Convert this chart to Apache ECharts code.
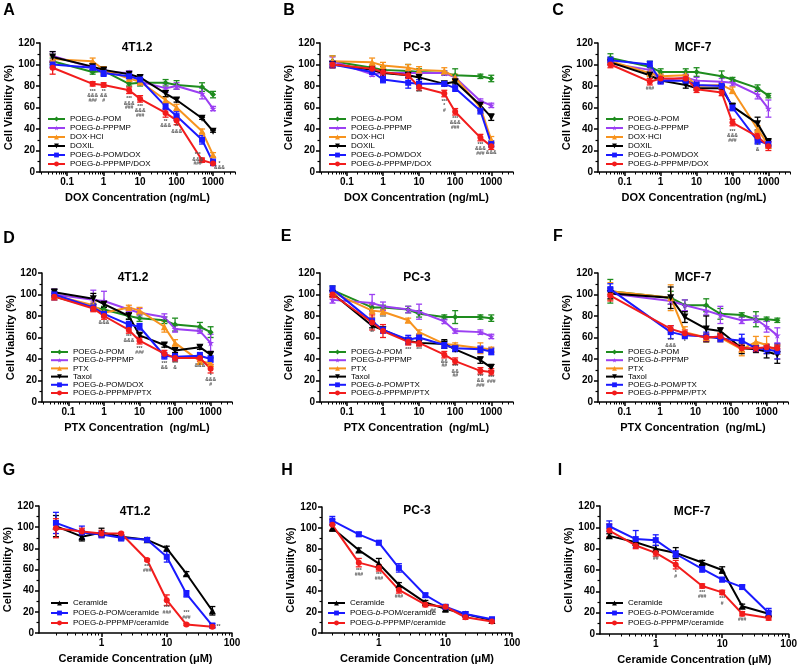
<!DOCTYPE html>
<html><head><meta charset="utf-8">
<script src="https://cdn.jsdelivr.net/npm/echarts@6/dist/echarts.min.js"></script>
<style>html,body{margin:0;padding:0;background:#fff}#c{width:800px;height:667px}</style>
</head><body><div id="c"></div>
<script>
// ---------- concentrations ----------
const concDOX = [0.04, 0.5, 1, 5, 10, 50, 100, 500, 1000];
const concPTX = [0.04, 0.5, 1, 5, 10, 50, 100, 500, 1000];
const concPTX_F = [0.04, 2, 5, 20, 50, 200, 500, 1000, 2000];
const concCer = [0.2, 0.5, 1, 2, 5, 10, 20, 50];

// ---------- tick labels ----------
const xMajorTicks = [0.01, 0.1, 1, 10, 100, 1000, 10000];
const yTicks = [0, 20, 40, 60, 80, 100, 120];

// ---------- legend names ----------
const namesDOX = ['POEG-b-POM', 'POEG-b-PPPMP', 'DOX·HCl', 'DOXIL', 'POEG-b-POM/DOX', 'POEG-b-PPPMP/DOX'];
const namesPTX_D = ['POEG-b-POM', 'POEG-b-PPPMP', 'PTX', 'Taxol', 'POEG-b-POM/DOX', 'POEG-b-PPPMP/PTX'];
const namesPTX = ['POEG-b-POM', 'POEG-b-PPPMP', 'PTX', 'Taxol', 'POEG-b-POM/PTX', 'POEG-b-PPPMP/PTX'];
const namesCer = ['Ceramide', 'POEG-b-POM/ceramide', 'POEG-b-PPPMP/ceramide'];

// ---------- Panel A : 4T1.2, DOX ----------
const A_POM      = [103, 93, 94, 82, 83, 83, 81, 79, 72];
const A_PPPMP    = [108, 97, 93, 92, 84, 78, 80, 73, 59];
const A_DOXHCl   = [105, 103, 95, 87, 84, 67, 60, 38, 16];
const A_DOXIL    = [107, 98, 95, 91, 88, 73, 67, 50, 38];
const A_POMDOX   = [100, 97, 92, 89, 86, 61, 52, 30, 9];
const A_PPPMPDOX = [97, 82, 81, 76, 68, 55, 48, 11, 8];
const A_err = [[3,2,3,2,3,3,4,4,3],[4,3,3,2,3,4,3,5,2],[3,3,3,3,3,3,3,2,2],[5,3,2,2,2,3,2,1,1],[3,2,3,2,4,3,4,4,3],[6,2,2,3,3,4,4,2,1]];
const A_notes = [[0.5,77,'***\n&&&\n###'],[1,77,'**\n&&\n#'],[5,70,'***\n&&&\n###'],[10,63,'***\n&&&\n###'],[50,49,'**\n&&&'],[100,44,'**\n&&&'],[380,18,'***\n&&&\n###'],[1500,10,'*\n&&&']];

// ---------- Panel B : PC-3, DOX ----------
const B_POM      = [103, 97, 95, 94, 93, 92, 90, 89, 87];
const B_PPPMP    = [103, 91, 92, 92, 92, 92, 88, 66, 62];
const B_DOXHCl   = [103, 102, 99, 97, 95, 94, 88, 60, 30];
const B_DOXIL    = [100, 95, 92, 90, 88, 82, 84, 62, 51];
const B_POMDOX   = [100, 93, 86, 83, 82, 82, 78, 57, 26];
const B_PPPMPDOX = [100, 96, 93, 90, 79, 73, 56, 32, 24];
const B_err = [[5,2,3,6,3,2,6,2,3],[4,2,2,2,2,2,2,2,2],[5,4,3,3,3,3,3,3,3],[3,2,2,2,4,2,2,3,3],[3,2,3,5,4,2,3,3,3],[3,3,3,3,3,3,3,3,3]];
const B_notes = [[10,76,'***'],[50,68,'***\n*\n#'],[100,52,'***\n&&&\n###'],[500,28,'***\n&&&\n###'],[1000,20,'&&&']];

// ---------- Panel C : MCF-7, DOX ----------
const C_POM      = [106, 98, 93, 93, 93, 89, 86, 78, 71];
const C_PPPMP    = [101, 95, 85, 88, 85, 84, 83, 72, 59];
const C_DOXHCl   = [103, 92, 89, 90, 80, 81, 76, 40, 25];
const C_DOXIL    = [102, 90, 85, 81, 78, 78, 61, 45, 28];
const C_POMDOX   = [104, 100, 85, 85, 81, 80, 60, 29, 26];
const C_PPPMPDOX = [100, 84, 87, 87, 77, 74, 46, 33, 24];
const C_err = [[4,5,3,3,4,5,2,3,2],[2,4,3,3,3,3,3,4,8],[3,3,3,3,3,3,3,3,3],[2,3,2,3,2,3,3,6,3],[3,3,3,3,3,3,3,3,3],[3,3,3,3,3,3,3,3,4]];
const C_notes = [[0.5,80,'###'],[100,40,'***\n&&&\n###'],[500,27,'*\n&']];

// ---------- Panel D : 4T1.2, PTX ----------
const D_POM      = [98, 88, 86, 80, 78, 76, 72, 70, 65];
const D_PPPMP    = [100, 95, 94, 86, 83, 79, 68, 66, 55];
const D_PTX      = [99, 90, 83, 88, 85, 70, 55, 38, 36];
const D_Taxol    = [102, 96, 91, 80, 62, 53, 48, 51, 44];
const D_POMPTX   = [100, 88, 82, 72, 70, 43, 42, 43, 40];
const D_PPPMPPTX = [98, 87, 80, 67, 57, 45, 41, 41, 31];
const D_err = [[3,3,3,3,3,3,6,4,5],[5,9,9,2,4,3,3,2,8],[3,3,3,2,3,5,3,3,3],[3,5,3,3,2,2,2,2,3],[3,3,3,3,3,3,3,3,3],[3,3,3,3,3,3,3,3,4]];
const D_notes = [[1,76,'&&&'],[5,63,'***\n&&&'],[10,52,'***\n###'],[50,38,'***\n&&'],[100,38,'***\n&'],[500,36,'&&&'],[1000,27,'*\n&&&\n#']];

// ---------- Panel E : PC-3, PTX ----------
const E_POM      = [104, 88, 88, 86, 82, 79, 79, 79, 78];
const E_PPPMP    = [95, 92, 89, 86, 84, 75, 66, 65, 61];
const E_PTX      = [102, 85, 84, 76, 65, 54, 53, 50, 49];
const E_Taxol    = [101, 71, 67, 57, 55, 54, 49, 39, 32];
const E_POMPTX   = [105, 75, 67, 58, 60, 53, 50, 49, 47];
const E_PPPMPPTX = [100, 74, 66, 56, 55, 44, 38, 29, 28];
const E_err = [[4,3,2,3,3,2,6,2,3],[3,8,4,3,7,2,2,2,2],[4,6,2,2,2,2,2,5,2],[3,2,2,3,2,4,2,3,3],[3,3,3,4,3,3,3,3,3],[3,7,6,3,3,3,3,3,3]];
const E_notes = [[0.5,67,'**'],[1,81,'***'],[5,51,'***'],[10,51,'***'],[50,40,'&&\n##'],[100,35,'***\n&&\n##'],[500,26,'***\n&&\n###'],[1000,25,'***\n###']];

// ---------- Panel F : MCF-7, PTX ----------
const F_POM      = [103, 97, 90, 90, 82, 81, 77, 77, 76];
const F_PPPMP    = [101, 94, 90, 85, 81, 76, 77, 70, 62];
const F_PTX      = [103, 97, 65, 60, 60, 49, 56, 53, 47];
const F_Taxol    = [101, 97, 79, 68, 66, 50, 49, 47, 44];
const F_POMPTX   = [105, 65, 62, 61, 59, 57, 50, 49, 47];
const F_PPPMPPTX = [99, 68, 64, 60, 61, 50, 50, 51, 50];
const F_err = [[11,6,5,6,5,2,7,2,2],[3,3,5,4,8,3,3,5,7],[8,12,5,4,4,6,5,8,7],[5,10,5,12,3,5,3,6,8],[5,6,3,4,3,6,3,4,7],[5,3,3,3,3,3,3,3,3]];
const F_notes = [[2,59,'***\n&&&'],[5,58,'*']];

// ---------- Panel G : 4T1.2, ceramide ----------
const G_Cer      = [101, 91, 95, 91, 88, 80, 56, 21];
const G_POMCer   = [104, 95, 93, 90, 88, 72, 37, 7];
const G_PPPMPCer = [99, 96, 94, 94, 69, 31, 8, 6];
const G_err = [[10,4,4,2,2,2,2,4],[10,6,3,3,2,5,3,2],[9,3,3,1,1,5,1,1]];
const G_notes = [[5,65,'***\n###'],[10,26,'***\n###'],[20,21,'***\n###'],[62,8,'**']];

// ---------- Panel H : PC-3, ceramide ----------
const H_Cer      = [100, 79, 66, 46, 29, 23, 18, 12];
const H_POMCer   = [107, 94, 86, 62, 36, 25, 18, 13];
const H_PPPMPCer = [103, 67, 62, 41, 27, 25, 15, 11];
const H_err = [[3,2,5,2,2,3,2,2],[4,2,2,4,2,2,2,2],[5,4,3,3,2,2,2,1]];
const H_notes = [[0.5,62,'***\n###'],[1,58,'***\n###'],[2,37,'###'],[6.5,23,'##']];

// ---------- Panel I : MCF-7, ceramide ----------
const I_Cer      = [92, 86, 80, 76, 67, 60, 26, 19];
const I_POMCer   = [101, 89, 88, 75, 61, 51, 44, 20];
const I_PPPMPCer = [97, 83, 76, 65, 45, 39, 19, 15];
const I_err = [[2,3,3,5,2,3,2,2],[5,8,5,3,3,2,2,4],[6,3,3,4,2,2,2,2]];
const I_notes = [[1,73,'##'],[2,60,'*\n#'],[5,41,'***\n###'],[10,35,'***\n#'],[20,16,'###']];

// ---------- styling ----------
const FONT = '"Liberation Sans", Arial, Helvetica, sans-serif';
const GREEN = '#1e8c1e', PURPLE = '#9b3ff2', ORANGE = '#f7931e', BLACK = '#000000', BLUE = '#1a1aff', RED = '#f21c1c';
const STAR = 'path://M50,0 L61,35 L98,35 L68,57 L79,91 L50,70 L21,91 L32,57 L2,35 L39,35 Z';
const TRI_DOWN = 'path://M0,0 L100,0 L50,87 Z';
const sixColors = [GREEN, PURPLE, ORANGE, BLACK, BLUE, RED];
const sixSymbols = ['diamond', STAR, 'triangle', TRI_DOWN, 'rect', 'circle'];
const sixSizes = [6, 7, 7, 7, 6, 6];
const threeColors = [BLACK, BLUE, RED];
const threeSymbols = ['triangle', 'rect', 'circle'];
const threeSizes = [7, 6, 6];

const PANELS = [
  {letter:'A', title:'4T1.2', conc:concDOX, xName:'DOX Concentration (ng/mL)', names:namesDOX, vals:[A_POM,A_PPPMP,A_DOXHCl,A_DOXIL,A_POMDOX,A_PPPMPDOX], errs:A_err, notes:A_notes},
  {letter:'B', title:'PC-3', conc:concDOX, xName:'DOX Concentration (ng/mL)', names:namesDOX, vals:[B_POM,B_PPPMP,B_DOXHCl,B_DOXIL,B_POMDOX,B_PPPMPDOX], errs:B_err, notes:B_notes},
  {letter:'C', title:'MCF-7', conc:concDOX, xName:'DOX Concentration (ng/mL)', names:namesDOX, vals:[C_POM,C_PPPMP,C_DOXHCl,C_DOXIL,C_POMDOX,C_PPPMPDOX], errs:C_err, notes:C_notes},
  {letter:'D', title:'4T1.2', conc:concPTX, xName:'PTX Concentration  (ng/mL)', names:namesPTX_D, vals:[D_POM,D_PPPMP,D_PTX,D_Taxol,D_POMPTX,D_PPPMPPTX], errs:D_err, notes:D_notes},
  {letter:'E', title:'PC-3', conc:concPTX, xName:'PTX Concentration  (ng/mL)', names:namesPTX, vals:[E_POM,E_PPPMP,E_PTX,E_Taxol,E_POMPTX,E_PPPMPPTX], errs:E_err, notes:E_notes},
  {letter:'F', title:'MCF-7', conc:concPTX_F, xName:'PTX Concentration  (ng/mL)', names:namesPTX, vals:[F_POM,F_PPPMP,F_PTX,F_Taxol,F_POMPTX,F_PPPMPPTX], errs:F_err, notes:F_notes},
  {letter:'G', title:'4T1.2', conc:concCer, xName:'Ceramide Concentration (μM)', names:namesCer, vals:[G_Cer,G_POMCer,G_PPPMPCer], errs:G_err, notes:G_notes},
  {letter:'H', title:'PC-3', conc:concCer, xName:'Ceramide Concentration (μM)', names:namesCer, vals:[H_Cer,H_POMCer,H_PPPMPCer], errs:H_err, notes:H_notes},
  {letter:'I', title:'MCF-7', conc:concCer, xName:'Ceramide Concentration (μM)', names:namesCer, vals:[I_Cer,I_POMCer,I_PPPMPCer], errs:I_err, notes:I_notes}
];

// layout (pixels)
const LAYOUT = [
  {left:40, top:43, width:195, height:129, xmin:0.018, xmax:4000, legL:47, legT:114.5, lh:9, gap:0, letterX:9, letterY:11, titleX:137, titleY:48},
  {left:320, top:43, width:193, height:129, xmin:0.018, xmax:4000, legL:328, legT:114.5, lh:9, gap:0, letterX:289, letterY:11, titleX:417, titleY:48},
  {left:598, top:43, width:192, height:129, xmin:0.018, xmax:4000, legL:605, legT:114.5, lh:9, gap:0, letterX:558, letterY:11, titleX:693, titleY:48},
  {left:42, top:273, width:190, height:129, xmin:0.018, xmax:4000, legL:50, legT:348, lh:8, gap:0.2, letterX:9, letterY:239, titleX:133, titleY:278},
  {left:320, top:273, width:193, height:129, xmin:0.018, xmax:4000, legL:328, legT:348, lh:8, gap:0.2, letterX:286, letterY:237, titleX:417, titleY:278},
  {left:598, top:273, width:190, height:129, xmin:0.018, xmax:4000, legL:605, legT:348, lh:8, gap:0.2, letterX:558, letterY:237, titleX:693, titleY:278},
  {left:39, top:506, width:193, height:127, xmin:0.11, xmax:100, legL:50, legT:598.5, lh:9, gap:1, letterX:9, letterY:471, titleX:135, titleY:512},
  {left:322, top:507, width:190, height:126, xmin:0.14, xmax:100, legL:327, legT:598.5, lh:9, gap:1, letterX:287, letterY:471, titleX:417, titleY:511},
  {left:600, top:506, width:192, height:128, xmin:0.145, xmax:100, legL:605, legT:598.5, lh:9, gap:1, letterX:560, letterY:471, titleX:692, titleY:512}
];

function minorTicks(lo, hi) {
  const out = [];
  for (let k = -3; k <= 4; k++) for (let m = 2; m <= 9; m++) {
    const v = +(m * Math.pow(10, k)).toPrecision(6);
    if (v >= lo && v <= hi) out.push(v);
  }
  return out;
}
function fmtName(n) { return n.replace('-b-', '-{i|b}-'); }
function errRender(color) {
  return function (params, api) {
    const x = api.value(0), y = api.value(1), e = api.value(2);
    const t = api.coord([x, y + e]), b = api.coord([x, y - e]);
    const w = 3, st = {stroke: color, lineWidth: 1.3};
    return {type: 'group', children: [
      {type: 'line', shape: {x1: t[0], y1: t[1], x2: b[0], y2: b[1]}, style: st},
      {type: 'line', shape: {x1: t[0] - w, y1: t[1], x2: t[0] + w, y2: t[1]}, style: st},
      {type: 'line', shape: {x1: b[0] - w, y1: b[1], x2: b[0] + w, y2: b[1]}, style: st}
    ]};
  };
}

const grids = [], xAxes = [], yAxes = [], series = [], legends = [], graphics = [];
const axisLineStyle = {color: '#000', width: 1.5};

PANELS.forEach((p, i) => {
  const L = LAYOUT[i];
  grids.push({left: L.left, top: L.top, width: L.width, height: L.height});
  const majors = xMajorTicks.filter(v => v >= L.xmin && v <= L.xmax);
  xAxes.push({
    type: 'log', gridIndex: i, position: 'bottom', min: L.xmin, max: L.xmax,
    axisLine: {show: true, onZero: false, lineStyle: axisLineStyle},
    axisTick: {show: true, customValues: majors, length: 4, lineStyle: axisLineStyle},
    axisLabel: {customValues: majors, formatter: v => String(+(+v).toPrecision(6)), color: '#000', fontWeight: 'bold', fontSize: 10, fontFamily: FONT, margin: 5},
    splitLine: {show: false}, minorTick: {show: false},
    name: p.xName, nameLocation: 'middle', nameGap: 20,
    nameTextStyle: {color: '#000', fontWeight: 'bold', fontSize: 11, fontFamily: FONT}
  });
  xAxes.push({
    type: 'log', gridIndex: i, position: 'bottom', min: L.xmin, max: L.xmax,
    axisLine: {show: false, onZero: false},
    axisTick: {show: true, customValues: minorTicks(L.xmin, L.xmax), length: 2.5, lineStyle: {color: '#000', width: 1}},
    axisLabel: {show: false}, splitLine: {show: false}
  });
  yAxes.push({
    type: 'value', gridIndex: i, min: 0, max: 120, interval: 20,
    axisLine: {show: true, onZero: false, lineStyle: axisLineStyle},
    axisTick: {show: true, length: 4, lineStyle: axisLineStyle},
    minorTick: {show: true, splitNumber: 2, length: 2.5, lineStyle: {color: '#000', width: 1.2}},
    axisLabel: {color: '#000', fontWeight: 'bold', fontSize: 10, fontFamily: FONT, margin: 5,
      formatter: v => yTicks.includes(v) ? String(v) : ''},
    splitLine: {show: false}, minorSplitLine: {show: false},
    name: 'Cell Viability (%)', nameLocation: 'middle', nameGap: 21,
    nameTextStyle: {color: '#000', fontWeight: 'bold', fontSize: 11, fontFamily: FONT}
  });
  const six = p.vals.length === 6;
  const colors = six ? sixColors : threeColors;
  const symbols = six ? sixSymbols : threeSymbols;
  const sizes = six ? sixSizes : threeSizes;
  p.vals.forEach((vals, j) => {
    series.push({
      type: 'custom', xAxisIndex: 2 * i, yAxisIndex: i, silent: true, z: 2,
      renderItem: errRender(colors[j]),
      data: p.conc.map((c, k) => [c, vals[k], p.errs[j][k]])
    });
  });
  p.vals.forEach((vals, j) => {
    series.push({
      type: 'line', name: p.names[j], xAxisIndex: 2 * i, yAxisIndex: i, z: 3,
      data: p.conc.map((c, k) => [c, vals[k]]),
      symbol: symbols[j], symbolSize: sizes[j], showSymbol: true,
      lineStyle: {width: 2, color: colors[j]}, itemStyle: {color: colors[j]},
      emphasis: {disabled: true}, animation: false
    });
  });
  const notes = p.notes;
  series.push({
    type: 'custom', xAxisIndex: 2 * i, yAxisIndex: i, silent: true, z: 4,
    data: notes.map(n => [n[0], n[1]]),
    renderItem: function (params, api) {
      const pt = api.coord([api.value(0), api.value(1)]);
      return {type: 'text', x: pt[0], y: pt[1], style: {
        text: notes[params.dataIndex][2], fill: '#555', font: 'bold 5px ' + FONT,
        textAlign: 'center', textVerticalAlign: 'top', lineHeight: 4.5}};
    }
  });
  legends.push({
    orient: 'vertical', left: L.legL, top: L.legT, padding: 0,
    itemWidth: 17, itemHeight: 6, itemGap: L.gap, selectedMode: false,
    data: p.names, formatter: fmtName,
    textStyle: {fontSize: 8, fontFamily: FONT, color: '#000', lineHeight: L.lh,
      rich: {i: {fontStyle: 'italic', fontSize: 8, fontFamily: FONT, lineHeight: L.lh}}}
  });
  graphics.push({type: 'text', x: L.letterX, y: L.letterY, style: {text: p.letter, font: 'bold 16px ' + FONT, fill: '#000', textAlign: 'center', textVerticalAlign: 'middle'}});
  graphics.push({type: 'text', x: L.titleX, y: L.titleY, style: {text: p.title, font: 'bold 12px ' + FONT, fill: '#000', textAlign: 'center', textVerticalAlign: 'middle'}});
});

const chart = echarts.init(document.getElementById('c'), null, {renderer: 'canvas'});
chart.setOption({
  animation: false,
  backgroundColor: '#fff',
  grid: grids, xAxis: xAxes, yAxis: yAxes, series: series, legend: legends,
  graphic: {elements: graphics}
});
</script></body></html>
